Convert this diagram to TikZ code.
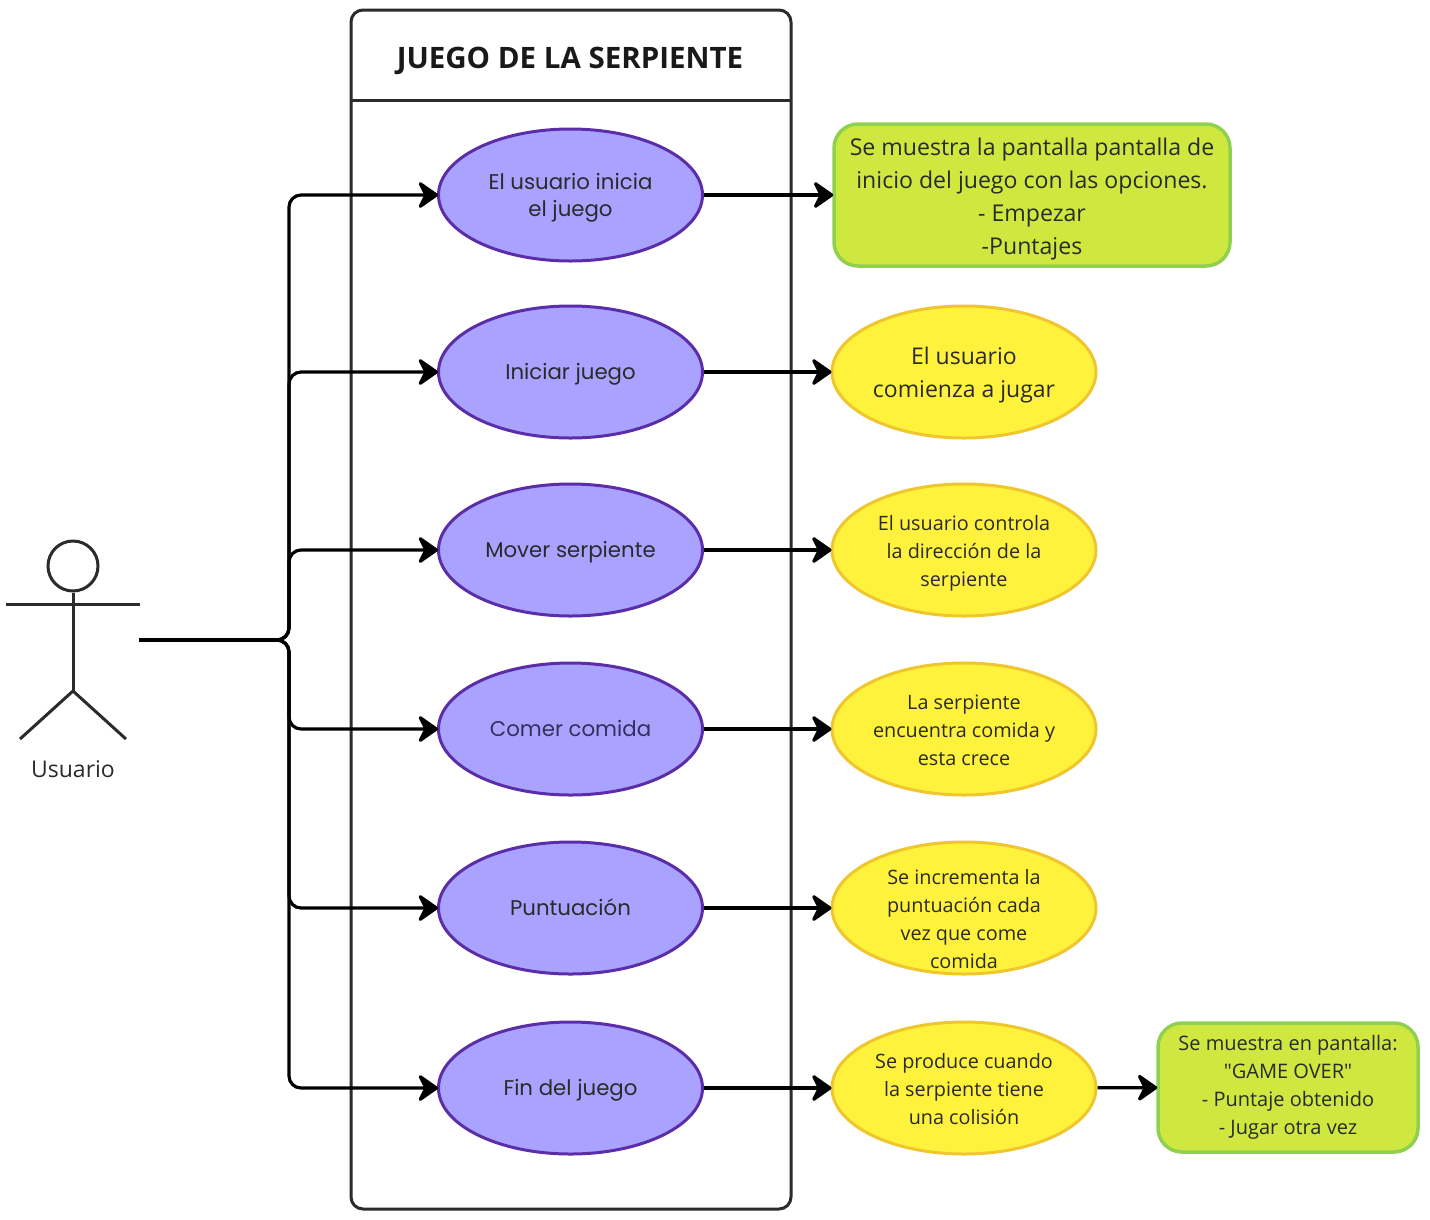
\documentclass[tikz,border=0pt]{standalone}
\usepackage{fontspec}
\setmainfont{Open Sans}
\newfontfamily\usecasefont{Poppins}
\newfontfamily\rawquotes{Open Sans}
\usetikzlibrary{arrows.meta,shapes.geometric}
\definecolor{framegray}{HTML}{2B2B2B}
\definecolor{caseviolet}{HTML}{A9A3FF}
\definecolor{caseborder}{HTML}{5B2DA8}
\definecolor{noteyellow}{HTML}{FFF23C}
\definecolor{noteborder}{HTML}{F0C62E}
\definecolor{boxgreen}{HTML}{CFE83F}
\definecolor{boxborder}{HTML}{8FD14F}
\definecolor{labelgray}{HTML}{2A2A2A}
\definecolor{fadedink}{HTML}{33305C}
\tikzset{
  drop/.style={text height=#1,text depth=0pt},
  usecase/.style={ellipse,draw=caseborder,fill=caseviolet,line width=3pt,minimum width=264pt,minimum height=132pt,inner sep=0pt,align=center,text=labelgray,drop=15pt,font=\usecasefont\fontsize{21.3}{27}\selectfont},
  note/.style={ellipse,draw=noteborder,fill=noteyellow,line width=3pt,minimum width=264pt,minimum height=132pt,inner sep=0pt,align=center,text=labelgray,drop=72pt,font=\fontsize{19.8}{28}\selectfont},
  bignote/.style={note,drop=50pt,font=\fontsize{23}{33}\selectfont},
  result/.style={rectangle,rounded corners=24pt,draw=boxborder,fill=boxgreen,line width=3.5pt,inner sep=0pt,align=center,text=labelgray},
  link/.style={-{Stealth[length=23pt,width=32pt,inset=8pt,round]},black,line width=3.2pt,shorten >=-1pt},
  actor/.style={framegray,line width=3pt}
}
\begin{document}
\begin{tikzpicture}[x=1pt,y=-1pt]
    \useasboundingbox (0,0) rectangle (1430,1219);
    \fill [white] (0,0) rectangle (1430,1219);

    % system frame
    \draw [actor,rounded corners=12pt] (351,10) rectangle (791,1209);
    \draw [actor] (351,100) -- (791,100);
    \node [font=\bfseries\fontsize{29.5}{36}\selectfont,text=black!90] (Title) at (570,61) {JUEGO DE LA SERPIENTE};

    % actor
    \node [circle,draw=framegray,line width=3pt,minimum size=50pt,inner sep=0pt] (Head) at (73,566) {};
    \coordinate (ArmL) at (6,604);
    \coordinate (ArmR) at (140,604);
    \coordinate (Hip) at (73,691);
    \coordinate (FootL) at (20,739);
    \coordinate (FootR) at (126,739);
    \coordinate (Hand) at (139,640);
    \coordinate (Trunk) at (289,640);
    \draw [actor] (Head) -- (Hip);
    \draw [actor] (ArmL) -- (ArmR);
    \draw [actor] (FootL) -- (Hip) -- (FootR);
    \node [font=\fontsize{23}{28}\selectfont,text=labelgray] (Usuario) at (73,769) {Usuario};

    % use cases
    \node [usecase,drop=42pt] (Inicia) at (570.5,195) {El usuario inicia\\el juego};
    \node [usecase] (Iniciar) at (570.5,372) {Iniciar juego};
    \node [usecase] (Mover) at (570.5,550) {Mover serpiente};
    \node [usecase,text=fadedink] (Comer) at (570.5,729) {Comer comida};
    \node [usecase] (Puntuacion) at (570.5,908) {Puntuación};
    \node [usecase] (Fin) at (570.5,1088) {Fin del juego};

    % outcomes
    \node [result,minimum width=396pt,minimum height=142pt,drop=118pt,font=\fontsize{23.1}{33}\selectfont] (Pantalla) at (1032,195) {Se muestra la pantalla pantalla de\\inicio del juego con las opciones.\\- Empezar\\-Puntajes};
    \node [bignote] (Comienza) at (964,372) {El usuario\\comienza a jugar};
    \node [note] (Controla) at (964,550) {El usuario controla\\la dirección de la\\serpiente};
    \node [note] (Encuentra) at (964,729) {La serpiente\\encuentra comida y\\esta crece};
    \node [note,drop=120pt,inner ysep=-30pt] (Incrementa) at (964,908) {Se incrementa la\\puntuación cada\\vez que come\\comida};
    \node [note] (Colision) at (964,1088) {Se produce cuando\\la serpiente tiene\\una colisión};
    \node [result,minimum width=260pt,minimum height=129pt,drop=94pt,font=\fontsize{20}{28}\selectfont] (GameOver) at (1288,1087.5) {Se muestra en pantalla:\\{\rawquotes "GAME OVER"}\\- Puntaje obtenido\\- Jugar otra vez};

    % connectors
    \foreach \target in {Inicia,Iniciar,Mover,Comer,Puntuacion,Fin}
        \draw [link,rounded corners=12pt] (Hand) -- (Trunk) |- (\target.west);
    \path [link] (Inicia) edge (Pantalla);
    \path [link] (Iniciar) edge (Comienza);
    \path [link] (Mover) edge (Controla);
    \path [link] (Comer) edge (Encuentra);
    \path [link] (Puntuacion) edge (Incrementa);
    \path [link] (Fin) edge (Colision);
    \path [link] (Colision) edge (GameOver);
\end{tikzpicture}
\end{document}
